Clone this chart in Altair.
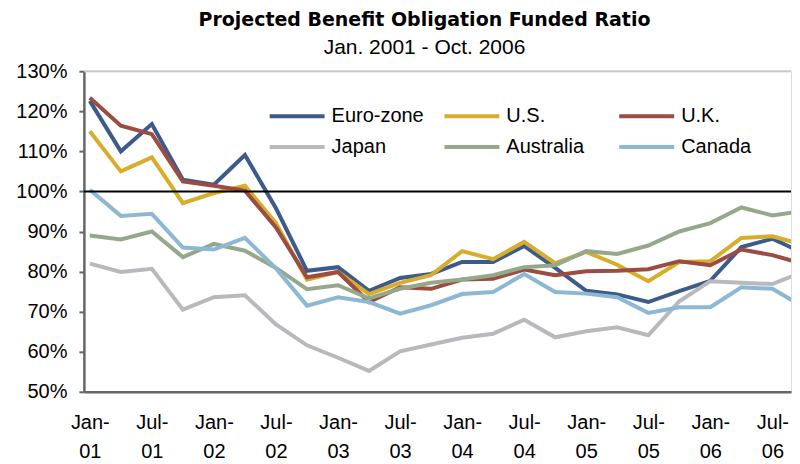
import altair as alt
import pandas as pd

quarters = ["Jan-01", "Apr-01", "Jul-01", "Oct-01", "Jan-02", "Apr-02", "Jul-02", "Oct-02",
            "Jan-03", "Apr-03", "Jul-03", "Oct-03", "Jan-04", "Apr-04", "Jul-04", "Oct-04",
            "Jan-05", "Apr-05", "Jul-05", "Oct-05", "Jan-06", "Apr-06", "Jul-06", "Oct-06"]

series_names = ["Euro-zone", "U.S.", "U.K.", "Japan", "Australia", "Canada"]
series_colors = ["#3C5A8A", "#D6AE2C", "#9B4C43", "#B9B9BD", "#95A98A", "#8DB8D4"]

euro_zone = [122.6, 110.0, 116.8, 102.9, 101.7, 109.1, 95.8, 80.2, 81.1, 75.2, 78.4, 79.4,
             82.4, 82.4, 86.4, 80.9, 75.2, 74.3, 72.4, 75.1, 77.7, 86.1, 88.2, 84.6]
us = [115.0, 105.0, 108.5, 97.1, 99.6, 101.4, 92.1, 78.0, 79.9, 74.4, 77.2, 79.1,
      85.1, 83.1, 87.4, 82.1, 84.9, 81.7, 77.6, 82.4, 82.6, 88.4, 88.8, 86.7]
uk = [123.4, 116.4, 114.3, 102.5, 101.4, 100.2, 91.0, 78.6, 79.9, 72.4, 76.1, 75.7,
      78.0, 78.2, 80.5, 79.1, 80.1, 80.2, 80.6, 82.6, 81.6, 85.5, 84.1, 81.9]
japan = [82.0, 79.9, 80.7, 70.5, 73.6, 74.1, 66.8, 61.6, 58.5, 55.2, 60.1, 61.8,
         63.5, 64.5, 68.0, 63.6, 65.1, 66.1, 64.1, 72.6, 77.6, 77.2, 76.9, 80.0]
australia = [89.0, 88.0, 90.0, 83.6, 86.9, 85.2, 80.9, 75.6, 76.6, 73.3, 75.7, 77.2,
             78.0, 79.1, 81.1, 81.6, 85.1, 84.4, 86.5, 90.0, 92.1, 96.0, 94.0, 95.1]
canada = [100.4, 93.9, 94.4, 86.0, 85.5, 88.4, 80.8, 71.5, 73.6, 72.4, 69.5, 71.6,
          74.4, 74.9, 79.4, 74.9, 74.5, 73.6, 69.7, 71.1, 71.1, 76.1, 75.7, 71.2]

all_series = [euro_zone, us, uk, japan, australia, canada]

rows = []
for order, (name, vals) in enumerate(zip(series_names, all_series)):
    for i, (q, v) in enumerate(zip(quarters, vals)):
        rows.append({"series": name, "order": order, "idx": i, "quarter": q, "value": v})
df = pd.DataFrame(rows)

tick_idx = list(range(0, 24, 2))
label_expr = "[datum.value % 4 == 0 ? 'Jan-' : 'Jul-', '0' + (1 + floor(datum.value / 4))]"

x_scale = alt.Scale(domain=[-0.19, 22.6], nice=False, zero=False)
y_scale = alt.Scale(domain=[50, 130], nice=False, zero=False)

FONT = "Liberation Sans"

lines = alt.Chart(df).mark_line(strokeWidth=4, clip=True, strokeJoin="miter").encode(
    x=alt.X("idx:Q", scale=x_scale,
            axis=alt.Axis(values=tick_idx, labelExpr=label_expr, title=None, grid=False,
                          ticks=False, domainColor="#666666", domainWidth=2.5,
                          labelFont=FONT, labelFontSize=20, labelColor="#000000",
                          labelPadding=21, labelLineHeight=29, labelAlign="center",
                          labelBaseline="top", labelFlush=False, labelOverlap=False)),
    y=alt.Y("value:Q", scale=y_scale,
            axis=alt.Axis(values=list(range(50, 131, 10)), labelExpr="datum.value + '%'",
                          title=None, grid=False, domainColor="#666666", domainWidth=2.5,
                          tickColor="#666666", tickWidth=2, tickSize=5,
                          labelFont=FONT, labelFontSize=20, labelColor="#000000",
                          labelPadding=12)),
    color=alt.Color("series:N",
                    scale=alt.Scale(domain=series_names, range=series_colors),
                    legend=alt.Legend(orient="none", legendX=200.5, legendY=32, columns=3,
                                      direction="horizontal", title=None,
                                      symbolType="M-2.5,0H2.5", symbolSize=484,
                                      symbolStrokeWidth=4, labelFont=FONT,
                                      labelFontSize=20, labelColor="#000000",
                                      labelOffset=21.5, columnPadding=12, rowPadding=8,
                                      gridAlign="all", padding=0, labelLimit=300)),
    order=alt.Order("order:Q"),
    detail="series:N",
)

top_rule = alt.Chart(pd.DataFrame({"y": [130]})).mark_rule(color="#C8C8C8", strokeWidth=2).encode(
    y=alt.Y("y:Q", scale=y_scale))
hundred_rule = alt.Chart(pd.DataFrame({"y": [100]})).mark_rule(color="#000000", strokeWidth=2).encode(
    y=alt.Y("y:Q", scale=y_scale))

chart = alt.layer(top_rule, lines, hundred_rule).properties(
    width=708, height=321,
    padding={"left": 7, "top": 3, "right": 0, "bottom": 0},
    title=alt.TitleParams(
        text="Projected Benefit Obligation Funded Ratio",
        subtitle="Jan. 2001 - Oct. 2006",
        font="DejaVu Sans", fontSize=19, fontWeight="bold", color="#000000",
        subtitleFont=FONT, subtitleFontSize=21, subtitleColor="#000000",
        subtitlePadding=7, anchor="middle", frame="group", dx=-13, offset=3,
    ),
).configure_view(stroke=None).configure(background="white")

chart.save("out.html", embed_options={"renderer": "svg", "actions": False})
